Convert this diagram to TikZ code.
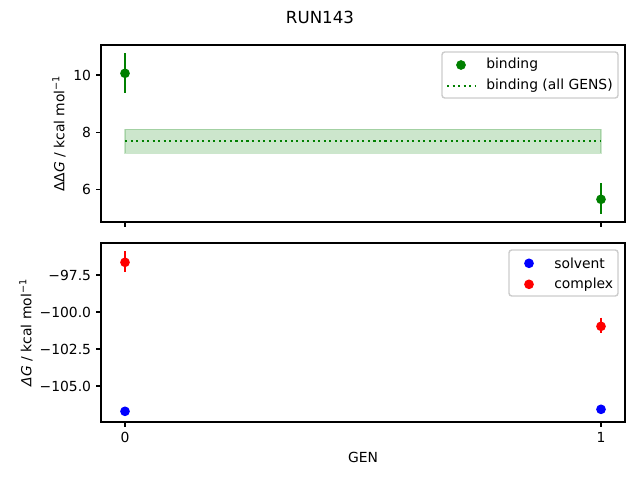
\documentclass[tikz,border=0pt]{standalone}
\usepackage{fontspec}
\setmainfont{DejaVu Sans}
\definecolor{mgreen}{RGB}{0,128,0}
\definecolor{mblue}{RGB}{0,0,255}
\definecolor{mred}{RGB}{255,0,0}
\begin{document}
\begin{tikzpicture}[x=0.72pt,y=-0.72pt,
  font=\fontsize{10}{12}\selectfont,
  axisframe/.style={line width=0.8pt, draw=black},
  tickmark/.style={line width=0.8pt, draw=black},
  ylabelnum/.style={anchor=east, inner sep=0pt},
  xlabelnum/.style={anchor=center, inner sep=0pt},
  errbar/.style={line width=1.5pt},
  dot/.style={circle, inner sep=0pt, minimum size=7pt, draw=none},
  legframe/.style={draw=black!20, fill=white, fill opacity=0.8, rounded corners=2pt, line width=1pt},
  legtext/.style={anchor=west, inner sep=0pt},
  avgline/.style={mgreen, line width=1.5pt, dash pattern=on 1.5pt off 2.475pt},
  band/.style={fill=mgreen, fill opacity=0.2, draw=mgreen, draw opacity=0.2, line width=1pt}
]
\useasboundingbox (0,0) rectangle (640,480);

% title
\node[font=\fontsize{12}{14}\selectfont] (title) at (320,17) {RUN143};

% ---------------- top axes ----------------
\coordinate (bandA) at (125,129.3);
\coordinate (bandB) at (601,153.3);
\fill[band] (bandA) rectangle (bandB);
\coordinate (avgL) at (125,140.7);
\coordinate (avgR) at (601,140.7);
\draw[avgline] (avgL) -- (avgR);

\coordinate (b0t) at (125,53.3);
\coordinate (b0b) at (125,93.3);
\draw[errbar, mgreen] (b0t) -- (b0b);
\node[dot, fill=mgreen] (b0) at (125,73.3) {};
\coordinate (b1t) at (601,183.3);
\coordinate (b1b) at (601,214);
\draw[errbar, mgreen] (b1t) -- (b1b);
\node[dot, fill=mgreen] (b1) at (601,199.3) {};

\draw[axisframe] (101,45) rectangle (625,222);
% y ticks top
\foreach \v/\yy in {10/75, 8/132.2, 6/189.4}{
  \draw[tickmark] (101,\yy) -- ++(-3.5pt,0);
  \node[ylabelnum] at (91.3,\yy) {\v};
}
% x ticks top
\foreach \xx in {125,601}{
  \draw[tickmark] (\xx,222) -- ++(0,-3.5pt);
}
\node[rotate=90, anchor=south, inner sep=0pt] (ylab1) at (66,133.5) {ΔΔ\textit{G} / kcal mol\textsuperscript{−1}};

% legend top
\draw[legframe] (442,52) rectangle (618,98);
\node[dot, fill=mgreen] (lgb) at (461,65) {};
\node[legtext] (lgbt) at (486,65) {binding};
\coordinate (lgaL) at (447,85.7);
\coordinate (lgaR) at (475,85.7);
\draw[avgline] (lgaL) -- (lgaR);
\node[legtext] (lgat) at (486,85.7) {binding (all GENS)};

% ---------------- bottom axes ----------------
\coordinate (c0t) at (125,251);
\coordinate (c0b) at (125,271.7);
\draw[errbar, mred] (c0t) -- (c0b);
\node[dot, fill=mred] (c0) at (125,262.3) {};
\coordinate (c1t) at (601,317.7);
\coordinate (c1b) at (601,332.7);
\draw[errbar, mred] (c1t) -- (c1b);
\node[dot, fill=mred] (c1) at (601,326.3) {};
\node[dot, fill=mblue] (s0) at (125,411.3) {};
\node[dot, fill=mblue] (s1) at (601,409.3) {};

\draw[axisframe] (101,243) rectangle (625,422);
\foreach \v/\yy in {−97.5/275, −100.0/312, −102.5/349, −105.0/386}{
  \draw[tickmark] (101,\yy) -- ++(-3.5pt,0);
  \node[ylabelnum] at (91.3,\yy) {\v};
}
\foreach \v/\xx in {0/125,1/601}{
  \draw[tickmark] (\xx,422) -- ++(0,-3.5pt);
  \node[xlabelnum] at (\xx,437) {\v};
}
\node[rotate=90, anchor=south, inner sep=0pt] (ylab2) at (33,332.5) {\textit{ΔG} / kcal mol\textsuperscript{−1}};
\node (xlab) at (363,457) {GEN};

% legend bottom
\draw[legframe] (509,250) rectangle (618,296);
\node[dot, fill=mblue] (lgs) at (529,263.3) {};
\node[legtext] (lgst) at (554,263.3) {solvent};
\node[dot, fill=mred] (lgc) at (529,284.3) {};
\node[legtext] (lgct) at (554,284.3) {complex};
\end{tikzpicture}
\end{document}
